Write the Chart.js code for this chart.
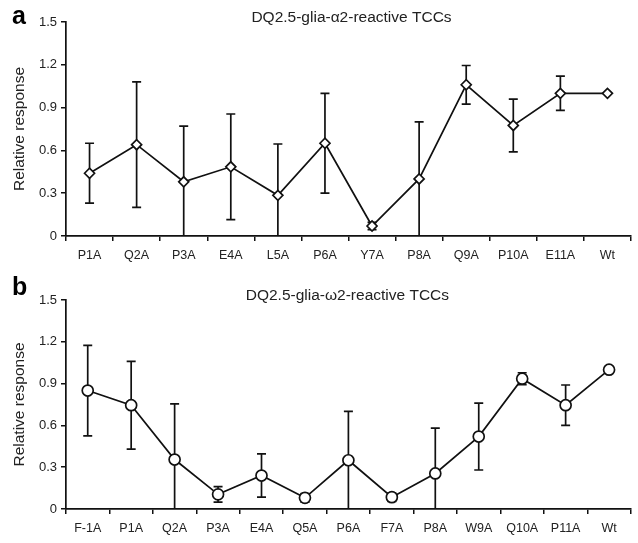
<!DOCTYPE html>
<html>
<head>
<meta charset="utf-8">
<script src="https://cdn.jsdelivr.net/npm/chart.js@4.4.1/dist/chart.umd.min.js"></script>
<style>
  body { margin: 0; background: #fff; }
  .panel { position: absolute; left: 0; width: 638px; }
  #wrapA { top: 0; height: 270px; }
  #wrapB { top: 270px; height: 273px; }
</style>
</head>
<body>
<div class="panel" id="wrapA"><canvas id="chartA"></canvas></div>
<div class="panel" id="wrapB"><canvas id="chartB"></canvas></div>
<script>
// panel a: DQ2.5-glia-a2 reactive TCCs
var labelsA = ['P1A', 'Q2A', 'P3A', 'E4A', 'L5A', 'P6A', 'Y7A', 'P8A', 'Q9A', 'P10A', 'E11A', 'Wt'];
var meansA  = [0.44, 0.64, 0.38, 0.485, 0.285, 0.65, 0.07, 0.40, 1.06, 0.775, 1.0, 1.0];
var errA    = [0.21, 0.44, 0.39, 0.37, 0.36, 0.35, 0.025, 0.40, 0.135, 0.185, 0.12, 0];

// panel b: DQ2.5-glia-w2 reactive TCCs
var labelsB = ['F-1A', 'P1A', 'Q2A', 'P3A', 'E4A', 'Q5A', 'P6A', 'F7A', 'P8A', 'W9A', 'Q10A', 'P11A', 'Wt'];
var meansB  = [0.85, 0.745, 0.355, 0.105, 0.24, 0.08, 0.35, 0.085, 0.255, 0.52, 0.935, 0.745, 1.0];
var errB    = [0.325, 0.315, 0.40, 0.055, 0.155, 0.03, 0.35, 0.03, 0.325, 0.24, 0.043, 0.145, 0];

var yTicks = [0, 0.3, 0.6, 0.9, 1.2, 1.5];

var FONT = '"Liberation Sans", Arial, sans-serif';

// error bars, drawn under the markers
var errorBars = {
    id: 'errorBars',
    beforeDatasetsDraw: function (chart) {
        var ctx = chart.ctx;
        var x = chart.scales.x, y = chart.scales.y;
        var ds = chart.data.datasets[0];
        var errs = chart.options.plugins.errorBars.errors;
        ctx.save();
        ctx.strokeStyle = '#111';
        ctx.lineWidth = 1.7;
        for (var i = 0; i < ds.data.length; i++) {
            if (!errs[i]) continue;
            var px = x.getPixelForValue(i);
            var hi = ds.data[i] + errs[i];
            var lo = ds.data[i] - errs[i];
            var yHi = y.getPixelForValue(hi);
            var yLo = y.getPixelForValue(Math.max(lo, 0));
            ctx.beginPath();
            ctx.moveTo(px, yHi);
            ctx.lineTo(px, yLo);
            ctx.moveTo(px - 4.5, yHi);
            ctx.lineTo(px + 4.5, yHi);
            if (lo > 0) {
                ctx.moveTo(px - 4.5, yLo);
                ctx.lineTo(px + 4.5, yLo);
            }
            ctx.stroke();
        }
        ctx.restore();
    }
};

// panel letter and heading
var panelText = {
    id: 'panelText',
    afterDraw: function (chart) {
        var o = chart.options.plugins.panelText;
        var ctx = chart.ctx;
        var area = chart.chartArea;
        ctx.save();
        ctx.fillStyle = '#000';
        ctx.textBaseline = 'middle';
        ctx.font = 'bold 25px ' + FONT;
        ctx.textAlign = 'left';
        ctx.fillText(o.letter, 12, o.letterY);
        ctx.fillStyle = '#222';
        ctx.font = '15.5px ' + FONT;
        ctx.textAlign = 'center';
        ctx.fillText(o.title, (area.left + area.right) / 2 + o.titleDx, o.titleY);
        ctx.restore();
    }
};

function makeChart(id, labels, means, errs, marker, radius, pad, letter, letterY, title, titleY, titleDx) {
    return new Chart(document.getElementById(id), {
        type: 'line',
        data: {
            labels: labels,
            datasets: [{
                data: means,
                borderColor: '#111',
                borderWidth: 1.7,
                tension: 0,
                pointStyle: marker,
                pointRadius: radius,
                pointBorderWidth: 1.7,
                pointBackgroundColor: '#fff',
                pointBorderColor: '#111'
            }]
        },
        options: {
            responsive: true,
            maintainAspectRatio: false,
            animation: false,
            layout: { padding: pad },
            plugins: {
                legend: { display: false },
                tooltip: { enabled: false },
                errorBars: { errors: errs },
                panelText: { letter: letter, letterY: letterY, title: title, titleY: titleY, titleDx: titleDx }
            },
            scales: {
                x: {
                    offset: true,
                    grid: { offset: true, drawOnChartArea: false, drawTicks: true, tickLength: 5, color: '#111', lineWidth: 1.5 },
                    border: { display: true, color: '#111', width: 1.7 },
                    ticks: { color: '#222', font: { size: 12.5, family: FONT }, padding: 7, maxRotation: 0, autoSkip: false },
                    afterFit: function (s) { s.height = 34; }
                },
                y: {
                    min: 0,
                    max: 1.5,
                    afterBuildTicks: function (s) { s.ticks = yTicks.map(function (v) { return { value: v }; }); },
                    grid: { drawOnChartArea: false, drawTicks: true, tickLength: 5, color: '#111', lineWidth: 1.5 },
                    border: { display: true, color: '#111', width: 1.7 },
                    ticks: {
                        color: '#222',
                        padding: 4,
                        font: { size: 13, family: FONT },
                        callback: function (v) { return v === 0 ? '0' : v.toFixed(1); }
                    },
                    title: {
                        display: true,
                        text: 'Relative response',
                        color: '#222',
                        font: { size: 15.5, family: FONT },
                        padding: { top: 10, bottom: 2 }
                    },
                    afterFit: function (s) { s.width = 66; }
                }
            }
        },
        plugins: [errorBars, panelText]
    });
}

makeChart('chartA', labelsA, meansA, errA, 'rectRot', 5, { top: 22, right: 7, bottom: 0, left: 0 },
    'a', 17, 'DQ2.5-glia-\u03b12-reactive TCCs', 18, 3);
makeChart('chartB', labelsB, meansB, errB, 'circle', 5.5, { top: 30, right: 2, bottom: 0, left: 0 },
    'b', 18, 'DQ2.5-glia-\u03c92-reactive TCCs', 26, -1);
</script>
</body>
</html>
